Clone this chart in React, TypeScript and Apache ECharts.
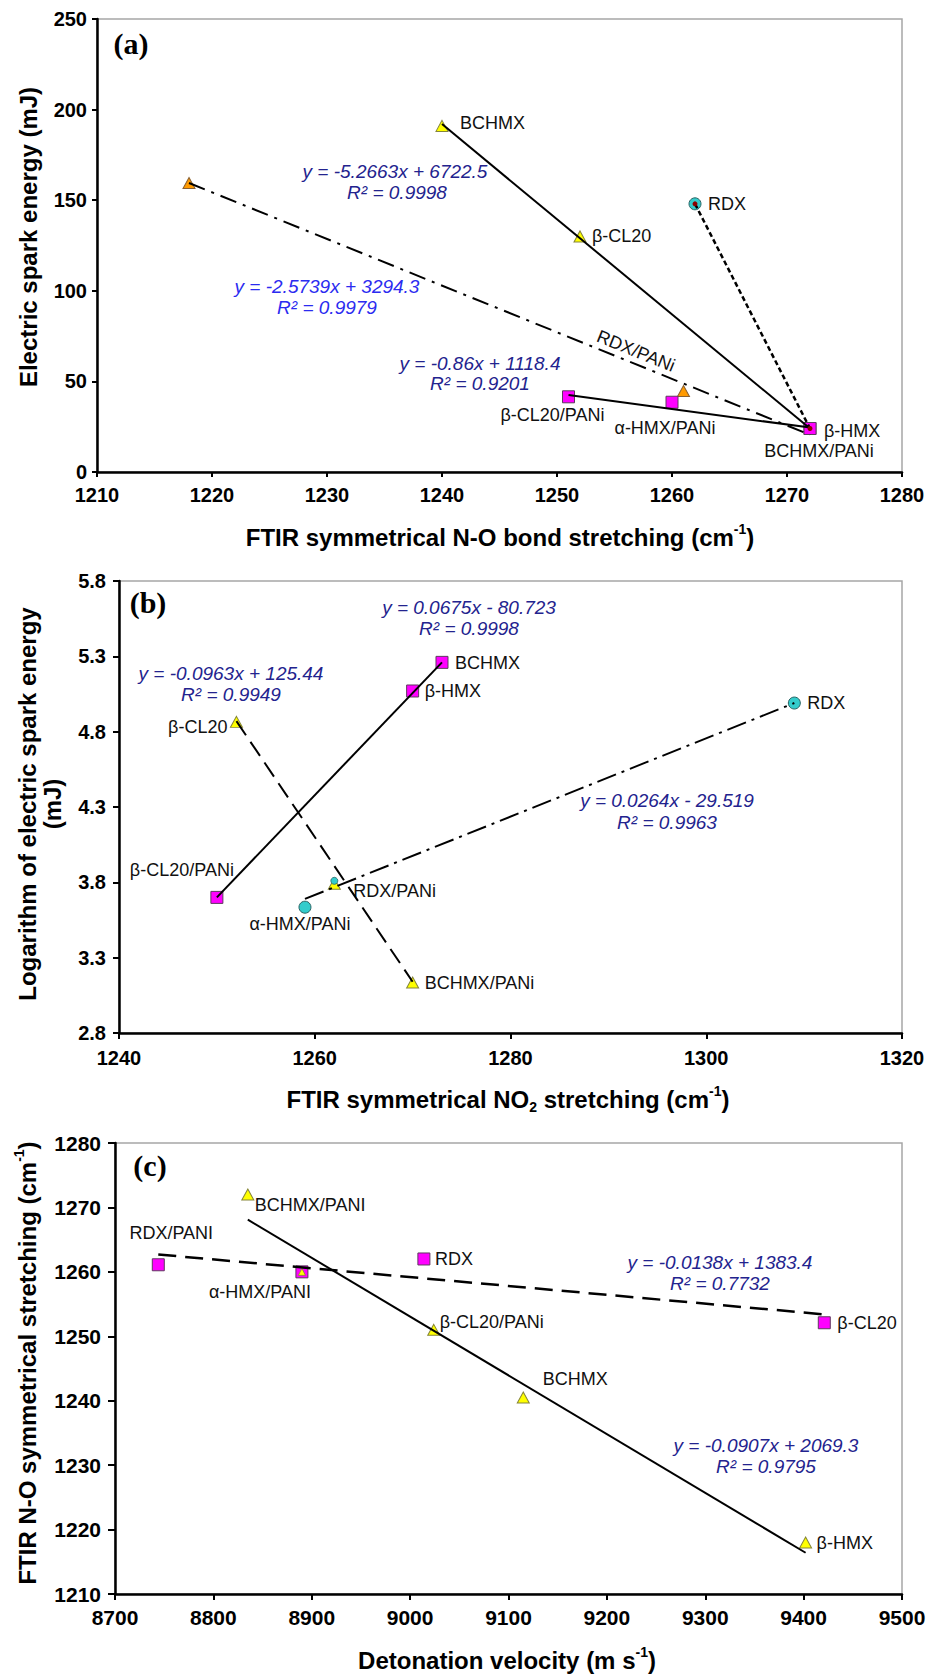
import React, { useEffect, useRef } from "react";
import * as echarts from "echarts";

const SANS = "'Liberation Sans', Arial, Helvetica, sans-serif";
const SERIF = "'Liberation Serif', 'Times New Roman', serif";
const NAVY = "#23238e";
const BLUE = "#2b2bf0";

// ---------- (a) FTIR N-O stretching vs electric spark energy ----------
const aXTicks = [1210, 1220, 1230, 1240, 1250, 1260, 1270, 1280];
const aYTicks = [0, 50, 100, 150, 200, 250];
const aTriNames = ["BCHMX", "β-CL20"];
const aTriX = [1240, 1252];
const aTriY = [191, 130];
const aCircleNames = ["RDX"];
const aCircleX = [1262];
const aCircleY = [148];
const aSquareNames = ["β-HMX", "BCHMX/PANi", "β-CL20/PANi", "α-HMX/PANi"];
const aSquareX = [1272, 1272, 1251, 1260];
const aSquareY = [24, 24, 41.5, 38.5];
const aOrangeX = [1218, 1261];
const aOrangeY = [159.5, 44.7];
const aCoreX = [1262, 1272];
const aCoreY = [148, 24];
const aFitNitramines = [[1240, 192], [1272, 24]];
const aFitRdx = [[1262, 148], [1272, 24]];
const aFitRdxPani = [[1218, 159.5], [1272, 20.5]];
const aFitPani = [[1251, 42.5], [1272, 24.5]];
const aEquations = [
  "y = -5.2663x + 6722.5", "R² = 0.9998",
  "y = -2.5739x + 3294.3", "R² = 0.9979",
  "y = -0.86x + 1118.4", "R² = 0.9201",
];

// ---------- (b) FTIR NO2 stretching vs log spark energy ----------
const bXTicks = [1240, 1260, 1280, 1300, 1320];
const bYTicks = [2.8, 3.3, 3.8, 4.3, 4.8, 5.3, 5.8];
const bSquareNames = ["BCHMX", "β-HMX", "β-CL20/PANi"];
const bSquareX = [1273, 1270, 1250];
const bSquareY = [5.26, 5.07, 3.7];
const bTriNames = ["β-CL20", "RDX/PANi", "BCHMX/PANi"];
const bTriX = [1252, 1262, 1270];
const bTriY = [4.865, 3.79, 3.135];
const bCircleNames = ["RDX", "α-HMX/PANi"];
const bCircleX = [1309, 1259];
const bCircleY = [4.99, 3.635];
const bSmallCircleX = [1262];
const bSmallCircleY = [3.81];
const bFitSquares = [[1250, 3.7], [1273, 5.26]];
const bFitTriangles = [[1252, 4.87], [1270, 3.14]];
const bFitCircles = [[1259, 3.69], [1309, 4.99]];
const bEquations = [
  "y = 0.0675x - 80.723", "R² = 0.9998",
  "y = -0.0963x + 125.44", "R² = 0.9949",
  "y = 0.0264x - 29.519", "R² = 0.9963",
];

// ---------- (c) detonation velocity vs FTIR N-O stretching ----------
const cXTicks = [8700, 8800, 8900, 9000, 9100, 9200, 9300, 9400, 9500];
const cYTicks = [1210, 1220, 1230, 1240, 1250, 1260, 1270, 1280];
const cSquareNames = ["RDX/PANI", "α-HMX/PANI", "RDX", "β-CL20"];
const cSquareX = [8744, 8890, 9014, 9421];
const cSquareY = [1261.1, 1260, 1262, 1252.1];
const cTriNames = ["BCHMX/PANI", "β-CL20/PANi", "BCHMX", "β-HMX"];
const cTriX = [8835, 9024, 9115, 9402];
const cTriY = [1272, 1251, 1240.5, 1218];
const cSmallTriX = [8890];
const cSmallTriY = [1260];
const cFitTriangles = [[8835, 1268.1], [9402, 1216.4]];
const cFitSquares = [[8744, 1262.7], [9421, 1253.4]];
const cEquations = [
  "y = -0.0138x + 1383.4", "R² = 0.7732",
  "y = -0.0907x + 2069.3", "R² = 0.9795",
];

// ---------- layout ----------
const GRIDS = [
  { left: 97, top: 19, width: 805, height: 453 },
  { left: 119, top: 581, width: 783, height: 452 },
  { left: 115, top: 1143, width: 787, height: 451 },
];

type Place = Record<string, [string, number, number]>;
const aPlace: Place = {
  "BCHMX": ["left", 18, -3],
  "β-CL20": ["left", 12, 0],
  "RDX": ["left", 13, 0],
  "β-HMX": ["left", 14, 2],
  "BCHMX/PANi": ["center", 9, 22],
  "β-CL20/PANi": ["center", -16, 18],
  "α-HMX/PANi": ["center", -7, 26],
};
const bPlace: Place = {
  "BCHMX": ["left", 13, 1],
  "β-HMX": ["left", 12, 0],
  "β-CL20": ["right", -9, 5],
  "β-CL20/PANi": ["center", -35, -27],
  "RDX/PANi": ["left", 19, 7],
  "α-HMX/PANi": ["center", -5, 17],
  "BCHMX/PANi": ["left", 12, 0],
  "RDX": ["left", 13, 0],
};
const cPlace: Place = {
  "BCHMX/PANI": ["left", 7, 10],
  "RDX/PANI": ["center", 13, -32],
  "α-HMX/PANI": ["center", -42, 20],
  "RDX": ["left", 11, 0],
  "β-CL20/PANi": ["left", 6, -8],
  "β-CL20": ["left", 13, 0],
  "BCHMX": ["center", 52, -18],
  "β-HMX": ["left", 11, 1],
};

const aEqPos = [[395, 171], [397, 192], [327, 286], [327, 307], [480, 363], [480, 383]];
const aEqColor = [NAVY, NAVY, BLUE, BLUE, NAVY, NAVY];
const bEqPos = [[469, 607], [469, 628], [231, 673], [231, 694], [667, 800], [667, 822]];
const cEqPos = [[720, 1262], [720, 1283], [766, 1445], [766, 1466]];

// marker styles
const SQUARE = { symbol: "rect", symbolSize: 12, itemStyle: { color: "#ff00ff", borderColor: "#5e3a5e", borderWidth: 1, opacity: 1 } };
const TRIANGLE = { symbol: "triangle", symbolSize: [12, 11], itemStyle: { color: "#ffff00", borderColor: "#85853a", borderWidth: 1, opacity: 1 } };
const SMALL_TRIANGLE = { symbol: "triangle", symbolSize: [7, 7], itemStyle: { color: "#ffff00", borderColor: "#85853a", borderWidth: 0.8, opacity: 1 } };
const ORANGE = { symbol: "triangle", symbolSize: [12, 11], itemStyle: { color: "#ff9a00", borderColor: "#8a6030", borderWidth: 1, opacity: 1 } };
const CIRCLE = { symbol: "circle", symbolSize: 12, itemStyle: { color: "#33cccc", borderColor: "#2a6464", borderWidth: 1, opacity: 1 } };
const SMALL_CIRCLE = { symbol: "circle", symbolSize: 7, itemStyle: { color: "#33cccc", borderColor: "#2a6464", borderWidth: 0.8, opacity: 1 } };
const CORE = { symbol: "circle", symbolSize: 5, itemStyle: { color: "#8b0000", borderWidth: 0, opacity: 1 } };

const fmtInt = (v: number) => String(Math.round(v));
const fmt1 = (v: number) => v.toFixed(1);

function axis(gridIndex: number, ticks: number[], fontSize: number, margin: number, tickLen: number, fmt: (v: number) => string) {
  return {
    gridIndex,
    type: "value",
    min: ticks[0],
    max: ticks[ticks.length - 1],
    axisLine: { show: true, onZero: false, lineStyle: { color: "#000", width: 2.5 } },
    axisTick: { show: true, length: tickLen, lineStyle: { color: "#000", width: 2 }, customValues: ticks },
    axisLabel: {
      show: true, customValues: ticks, color: "#000", fontSize, fontWeight: "bold",
      fontFamily: SANS, margin, formatter: fmt,
    },
    splitLine: { show: false },
  };
}

function markers(gridIndex: number, xs: number[], ys: number[], style: any, names?: string[], place?: Place) {
  return {
    type: "scatter",
    xAxisIndex: gridIndex,
    yAxisIndex: gridIndex,
    silent: true,
    z: 3,
    ...style,
    label: { show: false },
    data: xs.map((x, i) => {
      const name = names ? names[i] : "";
      const p = place && name ? place[name] : undefined;
      return {
        value: [x, ys[i]],
        name,
        label: p
          ? {
              show: true, position: "inside", align: p[0], verticalAlign: "middle",
              offset: [p[1], p[2]], formatter: "{b}", color: "#111",
              fontSize: 18, fontFamily: SANS,
            }
          : { show: false },
      };
    }),
  };
}

function fitLine(gridIndex: number, pts: number[][], dash: any, width = 2) {
  return {
    type: "line",
    xAxisIndex: gridIndex,
    yAxisIndex: gridIndex,
    silent: true,
    z: 4,
    symbol: "none",
    showSymbol: false,
    data: pts,
    lineStyle: { color: "#000", width, type: dash },
  };
}

function text(x: number, y: number, str: string, style: any, extra: any = {}) {
  return {
    type: "text",
    x, y, silent: true, z: 20,
    ...extra,
    style: {
      text: str, align: "center", verticalAlign: "middle",
      textAlign: "center", textVerticalAlign: "middle", ...style,
    },
  };
}

const eqStyle = (color: string) => ({ fill: color, fontSize: 19, fontStyle: "italic", fontFamily: SANS });
const titleStyle = {
  fill: "#000", fontSize: 24, fontWeight: "bold", fontFamily: SANS, lineHeight: 30,
  rich: {
    sup: { fontSize: 14, fontWeight: "bold", fontFamily: SANS, verticalAlign: "top", lineHeight: 14, fill: "#000" },
    sub: { fontSize: 14, fontWeight: "bold", fontFamily: SANS, verticalAlign: "bottom", lineHeight: 22, fill: "#000" },
  },
};
const panelStyle = { fill: "#000", fontSize: 30, fontWeight: "bold", fontFamily: SERIF };

export default function App() {
  const ref = useRef<HTMLDivElement>(null);

  useEffect(() => {
    document.body.style.margin = "0";
    if (!ref.current) return;
    const chart = echarts.init(ref.current, undefined, { renderer: "svg" });

    const graphics: any[] = [
      text(131, 43, "(a)", panelStyle),
      text(148, 602, "(b)", panelStyle),
      text(150, 1165, "(c)", panelStyle),
      // axis titles
      text(500, 537, "FTIR symmetrical N-O bond stretching (cm{sup|-1})", titleStyle),
      text(28, 237, "Electric spark energy (mJ)", titleStyle, { rotation: Math.PI / 2 }),
      text(508, 1099, "FTIR symmetrical NO{sub|2} stretching (cm{sup|-1})", titleStyle),
      text(40, 804, "Logarithm of electric spark energy\n(mJ)", { ...titleStyle, lineHeight: 25 }, { rotation: Math.PI / 2 }),
      text(507, 1660, "Detonation velocity (m s{sup|-1})", titleStyle),
      text(27, 1363, "FTIR N-O symmetrical stretching (cm{sup|-1})", titleStyle, { rotation: Math.PI / 2 }),
      // series name written along the dash-dot line
      text(636, 351, "RDX/PANi", { fill: "#111", fontSize: 18, fontFamily: SANS }, { rotation: (-22 * Math.PI) / 180 }),
    ];
    aEquations.forEach((s, i) => graphics.push(text(aEqPos[i][0], aEqPos[i][1], s, eqStyle(aEqColor[i]))));
    bEquations.forEach((s, i) => graphics.push(text(bEqPos[i][0], bEqPos[i][1], s, eqStyle(NAVY))));
    cEquations.forEach((s, i) => graphics.push(text(cEqPos[i][0], cEqPos[i][1], s, eqStyle(NAVY))));

    const option: any = {
      animation: false,
      backgroundColor: "#ffffff",
      grid: GRIDS.map((g) => ({
        ...g, show: true, borderColor: "#a6a6a6", borderWidth: 1.5,
        containLabel: false, outerBoundsMode: "none",
      })),
      xAxis: [
        axis(0, aXTicks, 20, 13, 5, fmtInt),
        axis(1, bXTicks, 20, 15, 6, fmtInt),
        axis(2, cXTicks, 21, 13, 6, fmtInt),
      ],
      yAxis: [
        axis(0, aYTicks, 20, 10, 5, fmtInt),
        axis(1, bYTicks, 20, 13, 6, fmt1),
        axis(2, cYTicks, 21, 14, 7, fmtInt),
      ],
      series: [
        // (a)
        markers(0, aOrangeX, aOrangeY, ORANGE),
        markers(0, aTriX, aTriY, TRIANGLE, aTriNames, aPlace),
        markers(0, aCircleX, aCircleY, CIRCLE, aCircleNames, aPlace),
        markers(0, aSquareX, aSquareY, SQUARE, aSquareNames, aPlace),
        fitLine(0, aFitNitramines, "solid"),
        fitLine(0, aFitRdx, [5, 3], 2.5),
        fitLine(0, aFitRdxPani, [17, 7, 3, 7]),
        fitLine(0, aFitPani, "solid"),
        { ...markers(0, aCoreX, aCoreY, CORE), z: 5 },
        // (b)
        markers(1, bSquareX, bSquareY, SQUARE, bSquareNames, bPlace),
        markers(1, bTriX, bTriY, TRIANGLE, bTriNames, bPlace),
        markers(1, bCircleX, bCircleY, CIRCLE, bCircleNames, bPlace),
        markers(1, bSmallCircleX, bSmallCircleY, SMALL_CIRCLE),
        fitLine(1, bFitSquares, "solid"),
        fitLine(1, bFitTriangles, [17, 8]),
        fitLine(1, bFitCircles, [20, 6, 3, 6]),
        // (c)
        markers(2, cSquareX, cSquareY, SQUARE, cSquareNames, cPlace),
        markers(2, cTriX, cTriY, TRIANGLE, cTriNames, cPlace),
        markers(2, cSmallTriX, cSmallTriY, SMALL_TRIANGLE),
        fitLine(2, cFitTriangles, "solid"),
        fitLine(2, cFitSquares, [18, 9], 2.5),
      ],
      graphic: { elements: graphics },
    };

    chart.setOption(option);
    return () => chart.dispose();
  }, []);

  return <div ref={ref} style={{ width: 941, height: 1674, background: "#fff" }} />;
}
